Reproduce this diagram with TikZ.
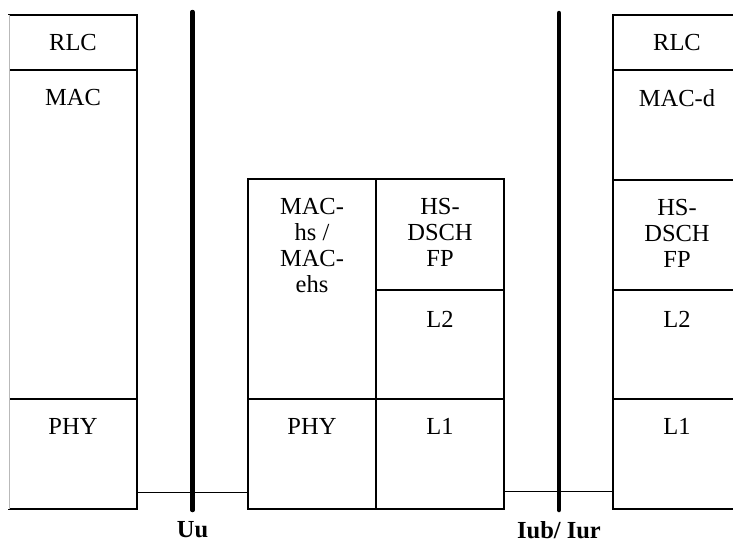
\documentclass[tikz,border=0pt]{standalone}
\usepackage{fontspec}
\setmainfont{Liberation Serif}
\usetikzlibrary{positioning}

\begin{document}
\begin{tikzpicture}[x=1pt,y=-1pt]

		\tikzstyle{cell}=[rectangle,draw=black,line width=1.5pt,
			outer sep=0pt,inner sep=0pt,anchor=north west,
			minimum width=128pt]
		\tikzstyle{lbl}=[inner sep=0pt,align=center,
			font=\fontsize{24.5}{26}\selectfont]
		\tikzstyle{iface}=[line width=4.5pt,line cap=round]

		\useasboundingbox (0,0) rectangle (733,544);
		\clip (0,0) rectangle (733,544);

		\node[cell,minimum height=55pt]	(rlcL)	at (9,15)	{};
		\node[cell,minimum height=329pt,below=0pt of rlcL]	(macL)	{};
		\node[cell,minimum height=110pt,below=0pt of macL]	(phyL)	{};
		\draw[white,line width=2pt] (rlcL.north west) -- (phyL.south west);
		\draw[gray!55,line width=1pt] (rlcL.north west) -- (phyL.south west);

		\node[cell,minimum height=220pt]	(machs)	at (248,179)	{};
		\node[cell,minimum height=110pt,below=0pt of machs]	(phyM)	{};
		\node[cell,minimum height=111pt]	(fpM)	at (machs.north east)	{};
		\node[cell,minimum height=109pt,below=0pt of fpM]	(ltwoM)	{};
		\node[cell,minimum height=110pt,right=0pt of phyM]	(loneM)	{};

		\node[cell,minimum width=130pt,minimum height=55pt]	(rlcR)	at (613,15)	{};
		\node[cell,minimum width=130pt,minimum height=110pt,below=0pt of rlcR]	(macd)	{};
		\node[cell,minimum width=130pt,minimum height=110pt,below=0pt of macd]	(fpR)	{};
		\node[cell,minimum width=130pt,minimum height=109pt,below=0pt of fpR]	(ltwoR)	{};
		\node[cell,minimum width=130pt,minimum height=110pt,below=0pt of ltwoR]	(loneR)	{};

		\node[lbl,below=19pt of rlcL.north]	{RLC};
		\node[lbl,below=19pt of macL.north]	{MAC};
		\node[lbl,below=19pt of phyL.north]	{PHY};
		\node[lbl,below=19pt of machs.north]	{MAC-\\hs /\\MAC-\\ehs};
		\node[lbl,below=19pt of phyM.north]	{PHY};
		\node[lbl,below=19pt of fpM.north]	{HS-\\DSCH\\FP};
		\node[lbl,below=21pt of ltwoM.north]	{L2};
		\node[lbl,below=19pt of loneM.north]	{L1};
		\node[lbl,below=19pt of rlcR.north,xshift=-1pt]	{RLC};
		\node[lbl,below=19pt of macd.north,xshift=-1pt]	{MAC-d};
		\node[lbl,below=19pt of fpR.north,xshift=-1pt]	{HS-\\DSCH\\FP};
		\node[lbl,below=21pt of ltwoR.north,xshift=-1pt]	{L2};
		\node[lbl,below=19pt of loneR.north,xshift=-1pt]	{L1};

		\draw[line width=0.8pt] ([yshift=17pt]phyL.south east) -- ([yshift=17pt]phyM.south west);
		\draw[line width=0.8pt] ([yshift=18pt]loneM.south east) -- ([yshift=18pt]loneR.south west);

		\coordinate (uuTop)	at (192.5,12);
		\coordinate (uuBot)	at (192.5,510);
		\coordinate (iubTop)	at (559,13);
		\coordinate (iubBot)	at (559,510);
		\draw[iface] (uuTop) -- (uuBot);
		\draw[iface] (iubTop) -- (iubBot);
		\node[lbl,font=\fontsize{24.5}{26}\selectfont\bfseries,below=11pt of uuBot]	(uu)	{Uu};
		\node[lbl,font=\fontsize{24.5}{26}\selectfont\bfseries,below=11pt of iubBot]	(iub)	{Iub/ Iur};

	\end{tikzpicture}
\end{document}
